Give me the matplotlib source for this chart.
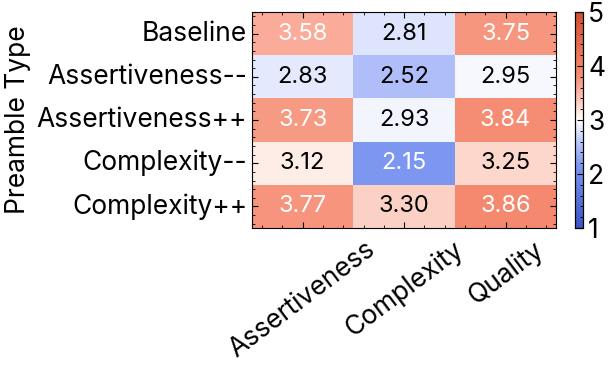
import numpy as np
import matplotlib.pyplot as plt
import seaborn as sns
from matplotlib.colors import LinearSegmentedColormap
from matplotlib.ticker import AutoMinorLocator

rows = ['Baseline', 'Assertiveness--', 'Assertiveness++', 'Complexity--', 'Complexity++']
cols = ['Assertiveness', 'Complexity', 'Quality']
scores = np.array([
    [3.58, 2.81, 3.75],
    [2.83, 2.52, 2.95],
    [3.73, 2.93, 3.84],
    [3.12, 2.15, 3.25],
    [3.77, 3.30, 3.86],
])

# blue-white-red map, white at the midpoint (3)
cmap = LinearSegmentedColormap.from_list('bwr_soft', [
    (0.0, (58/255, 84/255, 196/255)),
    (0.2875, (125/255, 150/255, 240/255)),
    (0.38, (175/255, 190/255, 248/255)),
    (0.5, (1.0, 1.0, 1.0)),
    (0.5625, (253/255, 216/255, 205/255)),
    (0.645, (250/255, 172/255, 155/255)),
    (0.715, (244/255, 138/255, 112/255)),
    (1.0, (208/255, 78/255, 52/255)),
])

plt.rcParams['font.family'] = ['Inter', 'DejaVu Sans']
plt.rcParams['font.size'] = 19

fig = plt.figure(figsize=(6.1, 3.66), dpi=100)
ax = fig.add_axes([0.413, 0.377, 0.499, 0.59])
cax = fig.add_axes([0.943, 0.377, 0.013, 0.59])

sns.heatmap(scores, ax=ax, cbar_ax=cax, cmap=cmap, vmin=1, vmax=5,
            annot=True, fmt='.2f', annot_kws={'fontsize': 17},
            xticklabels=cols, yticklabels=rows)

for t, v in zip(ax.texts, scores.ravel()):
    t.set_color('white' if abs(v - 3) > 0.55 else 'black')

ax.set_ylabel('Preamble Type', labelpad=4)
ax.set_xticklabels(cols, rotation=37, ha='center')
ax.set_yticklabels(rows, rotation=0)
ax.tick_params(which='both', top=True, right=True, direction='in')
ax.tick_params(which='major', length=4, width=0.8)
ax.tick_params(which='minor', length=2, width=0.6)
ax.tick_params(axis='x', which='major', pad=6)
ax.xaxis.set_minor_locator(AutoMinorLocator(5))
ax.yaxis.set_minor_locator(AutoMinorLocator(5))
for s in ax.spines.values():
    s.set_visible(True)
    s.set_linewidth(0.8)

cax.tick_params(which='both', direction='in', labelsize=19)
cax.set_yticks([1, 2, 3, 4, 5])
cax.yaxis.set_minor_locator(AutoMinorLocator(5))
cax.tick_params(which='major', length=4)
cax.tick_params(which='minor', length=2)
for s in cax.spines.values():
    s.set_visible(True)
    s.set_linewidth(0.8)

fig.savefig('out.png', dpi=100)
